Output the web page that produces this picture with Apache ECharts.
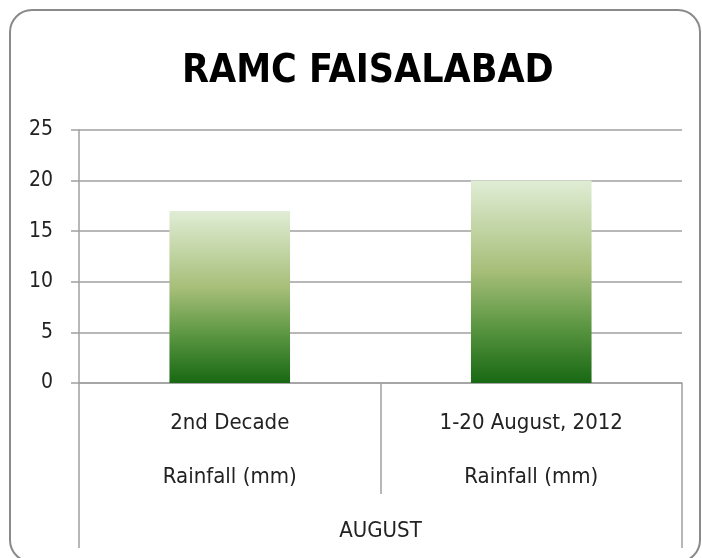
<!DOCTYPE html>
<html>
<head>
<meta charset="utf-8">
<script src="https://cdn.jsdelivr.net/npm/echarts@6/dist/echarts.min.js"></script>
<style>
html,body{margin:0;padding:0;background:#fff;}
#c{width:702px;height:558px;}
</style>
</head>
<body>
<div id="c"></div>
<script>
const titleText = 'RAMC FAISALABAD';
const categories = ['2nd Decade\nRainfall (mm)', '1-20 August, 2012\nRainfall (mm)'];
const groupLabels = ['AUGUST'];
const rainfall = [17, 20];
const yMin = 0, yMax = 25, yStep = 5;

const FONT = "'Liberation Sans Narrow', 'DejaVu Sans Condensed', 'Open Sans', sans-serif";
const chart = echarts.init(document.getElementById('c'), null, {renderer: 'canvas'});
chart.setOption({
  animation: false,
  backgroundColor: '#fff',
  title: {
    text: titleText,
    left: 177, top: 47,
    textStyle: {fontFamily: FONT, fontWeight: 'bold', fontSize: 39, color: '#000'}
  },
  graphic: [{
    type: 'rect', silent: true,
    shape: {x: 10, y: 10, width: 690, height: 552, r: 22},
    style: {fill: 'none', stroke: '#8a8a8a', lineWidth: 2}
  }],
  grid: {left: 79, right: 20, top: 130, bottom: 175, containLabel: false},
  xAxis: [{
    type: 'category', data: categories, position: 'bottom',
    axisLine: {show: true, lineStyle: {color: '#a0a0a0', width: 1.5}},
    axisTick: {show: true, alignWithLabel: false, length: 111, lineStyle: {color: '#a0a0a0', width: 1.5}},
    axisLabel: {margin: 13, fontFamily: FONT, fontSize: 22, color: '#222', lineHeight: 54, interval: 0}
  }, {
    type: 'category', data: groupLabels, position: 'bottom',
    axisLine: {show: false},
    axisTick: {show: true, alignWithLabel: false, length: 165, lineStyle: {color: '#a0a0a0', width: 1.5}},
    axisLabel: {margin: 136, fontFamily: FONT, fontSize: 22, color: '#222', lineHeight: 24}
  }],
  yAxis: {
    type: 'value', min: yMin, max: yMax, interval: yStep,
    axisLine: {show: true, lineStyle: {color: '#a0a0a0', width: 1.5}},
    axisTick: {show: true, length: 8, lineStyle: {color: '#a0a0a0', width: 1.5}},
    splitLine: {show: true, lineStyle: {color: '#a0a0a0', width: 1.5}},
    axisLabel: {margin: 26, fontFamily: FONT, fontSize: 21, color: '#222', padding: [3, 0, 0, 0]}
  },
  series: [{
    type: 'bar', xAxisIndex: 0, data: rainfall, barWidth: '40%',
    itemStyle: {
      color: new echarts.graphic.LinearGradient(0, 0, 0, 1, [
        {offset: 0, color: '#e0edd5'},
        {offset: 0.45, color: '#a6be78'},
        {offset: 0.72, color: '#5b9642'},
        {offset: 1, color: '#186813'}
      ])
    }
  }]
});
</script>
</body>
</html>
